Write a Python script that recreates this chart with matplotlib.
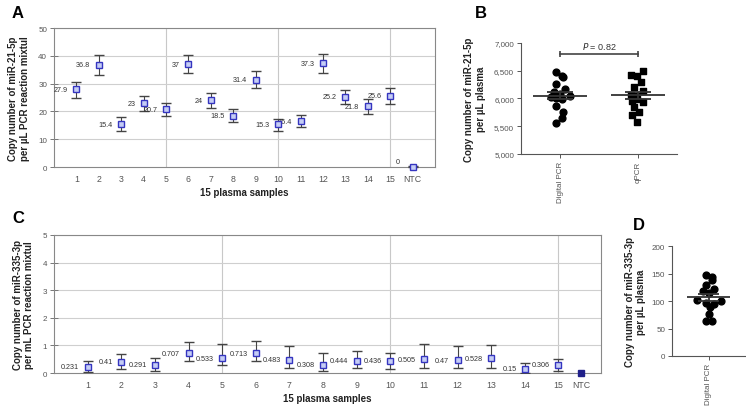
import matplotlib.pyplot as plt
import numpy as np

# panel A - miR-21-5p per uL PCR reaction
samples = ["1", "2", "3", "4", "5", "6", "7", "8", "9", "10", "11", "12", "13", "14", "15", "NTC"]
a_val = [27.9, 36.8, 15.4, 23, 20.7, 37, 24, 18.5, 31.4, 15.3, 16.4, 37.3, 25.2, 21.8, 25.6, 0]
a_low = [25.0, 33.2, 13.0, 20.3, 18.3, 34.0, 21.4, 16.2, 28.3, 13.0, 14.4, 34.0, 22.5, 19.2, 22.8, 0]
a_high = [30.6, 40.3, 17.9, 25.6, 23.1, 40.3, 26.7, 20.9, 34.6, 17.4, 18.7, 40.7, 27.7, 24.4, 28.5, 0.3]
a_lbl = ["27.9", "36.8", "15.4", "23", "20.7", "37", "24", "18.5", "31.4", "15.3", "16.4", "37.3",
         "25.2", "21.8", "25.6", "0"]

# panel C - miR-335-3p per mL PCR reaction
c_val = [0.231, 0.41, 0.291, 0.707, 0.533, 0.713, 0.483, 0.308, 0.444, 0.436, 0.505, 0.47, 0.528, 0.15, 0.306, 0]
c_low = [0.05, 0.13, 0.06, 0.42, 0.28, 0.45, 0.17, 0.08, 0.17, 0.14, 0.17, 0.17, 0.19, 0.0, 0.06, 0]
c_high = [0.45, 0.68, 0.55, 1.13, 1.04, 1.16, 0.97, 0.71, 0.81, 0.71, 1.04, 0.97, 1.03, 0.35, 0.51, 0]
c_lbl = ["0.231", "0.41", "0.291", "0.707", "0.533", "0.713", "0.483", "0.308", "0.444", "0.436",
         "0.505", "0.47", "0.528", "0.15", "0.306", ""]

# panel B - copies per uL plasma
b_groups = ["Digital PCR", "qPCR"]
b_digital = [6470, 6400, 6380, 6270, 6170, 6120, 6080, 6050, 6020, 6000, 5990, 5860, 5760, 5650, 5560]
b_qpcr = [6500, 6430, 6400, 6300, 6200, 6130, 6060, 6040, 5990, 5940, 5950, 5850, 5760, 5700, 5570]
b_dx = [-0.045, 0.026, 0.04, -0.045, 0.064, -0.077, 0, 0.128, -0.12, -0.045, 0.03, -0.045, 0.04, 0.03, -0.045]
b_qx = [0.068, -0.094, -0.017, 0.035, -0.05, 0.068, -0.094, -0.026, -0.009, 0.068, -0.08, -0.05, 0.017, -0.08, -0.009]

# panel D - miR-335-3p per uL plasma
d_val = [147, 144, 139, 130, 122, 118, 114, 102, 100, 97, 94, 89, 76, 64, 64]
d_dx = [-0.04, 0.05, 0.045, -0.04, 0.08, -0.08, 0, -0.16, 0.17, -0.03, 0.08, 0.015, 0, -0.04, 0.05]

grey = "#555555"
plt.rcParams["font.family"] = ["Liberation Sans", "DejaVu Sans"]

fig = plt.figure(figsize=(7.46, 4.10), dpi=100)


def sample_panel(ax, val, low, high, lbl, ymax, ylabel, ntc_pos, xmax, ntc_fill):
    x = list(range(1, 16)) + [ntc_pos]
    val = np.array(val)
    yerr = [val - np.array(low), np.array(high) - val]
    ax.errorbar(x[:15], val[:15], yerr=[yerr[0][:15], yerr[1][:15]], fmt="s", ms=5,
                mfc="#c5cdf5", mec="#3535c0", mew=1, ecolor="#444444", elinewidth=0.8,
                capsize=3.5, capthick=0.8, zorder=3)
    if ntc_fill:
        ax.plot(ntc_pos, 0, "s", ms=4, color="#20208a", zorder=3, clip_on=False)
    else:
        ax.errorbar([ntc_pos], [val[15]], yerr=[[0], [high[15]]], fmt="s", ms=5,
                    mfc="#c5cdf5", mec="#3535c0", mew=1, ecolor="#444444", elinewidth=0.8,
                    capsize=3.5, zorder=3, clip_on=False)
    for xi, v, t in zip(x, val, lbl):
        if t:
            if t == "0" and xi == ntc_pos:
                ax.annotate(t, (xi, v), xytext=(-9, 4), textcoords="offset points",
                            ha="right", va="center", fontsize=5.2, color="#333333")
            else:
                ax.annotate(t, (xi, v), xytext=(-6, 0), textcoords="offset points",
                            ha="right", va="center", fontsize=5.2, color="#333333")
    ax.set_xlim(0, xmax)
    ax.set_ylim(0, ymax)
    ax.set_xticks(x)
    ax.set_xticklabels(samples)
    ax.set_yticks(np.linspace(0, ymax, 6))
    for gx in [5, 10, 15]:
        ax.axvline(gx, color="#c8c8c8", lw=0.8, zorder=0)
    for gy in np.linspace(0, ymax, 6)[1:]:
        ax.axhline(gy, color="#cfcfcf", lw=0.8, zorder=0)
    for s in ax.spines.values():
        s.set_color("#888888")
        s.set_linewidth(0.8)
    ax.tick_params(axis="y", direction="inout", length=6, width=0.7, colors="#777777",
                   labelsize=5.8, labelcolor=grey, pad=2)
    ax.tick_params(axis="x", direction="out", length=0, labelsize=6.3, labelcolor=grey, pad=5)
    ax.set_xlabel("15 plasma samples", fontsize=7, fontweight="bold", color="#222222", labelpad=3)
    ax.set_ylabel(ylabel, fontsize=7, fontweight="bold", color="#222222", labelpad=6)


axA = fig.add_axes([0.0724, 0.5902, 0.5107, 0.339])
sample_panel(axA, a_val, a_low, a_high, a_lbl, 50,
             "Copy number of miR-21-5p\nper \u00b5L PCR reaction mixtul", 16, 17, False)

axC = fig.add_axes([0.0724, 0.0878, 0.733, 0.3366])
sample_panel(axC, c_val, c_low, c_high, c_lbl, 5,
             "Copy number of miR-335-3p\nper mL PCR reaction mixtul", 15.67, 16.26, True)


def dot_panel(ax, groups):
    ax.spines["top"].set_visible(False)
    ax.spines["right"].set_visible(False)
    for s in ["left", "bottom"]:
        ax.spines[s].set_color("#555555")
        ax.spines[s].set_linewidth(0.8)
    ax.set_xticks(range(len(groups)))
    ax.set_xticklabels(groups, rotation=90)
    ax.tick_params(direction="out", length=3, width=0.7, colors="#555555", labelsize=5.8,
                   labelcolor=grey, pad=2)


def mean_sem(ax, x, vals, mw, sw):
    vals = np.array(vals)
    m = vals.mean()
    sem = vals.std(ddof=1) / np.sqrt(len(vals))
    ax.hlines(m, x - mw, x + mw, color="#333333", lw=1.3, zorder=4)
    ax.hlines([m - sem, m + sem], x - sw, x + sw, color="#333333", lw=1.3, zorder=4)
    ax.vlines(x, m - sem, m + sem, color="#333333", lw=1.3, zorder=4)


axB = fig.add_axes([0.6984, 0.622, 0.2091, 0.2707])
axB.scatter(np.array(b_dx), b_digital, s=24, marker="o", color="black", zorder=3)
axB.scatter(1 + np.array(b_qx), b_qpcr, s=22, marker="s", color="black", zorder=3)
mean_sem(axB, 0, b_digital, 0.34, 0.17)
mean_sem(axB, 1, b_qpcr, 0.34, 0.17)
axB.set_xlim(-0.5, 1.5)
axB.set_ylim(5000, 7000)
axB.set_yticks([5000, 5500, 6000, 6500, 7000])
axB.set_yticklabels(["5,000", "5,500", "6,000", "6,500", "7,000"])
dot_panel(axB, b_groups)
axB.plot([0, 1], [6800, 6800], color="#444444", lw=1.2, clip_on=False)
axB.vlines([0, 1], 6740, 6860, color="#444444", lw=1.2)
axB.text(0.5, 6860, r"$\it{P}$ = 0.82", ha="center", va="bottom", fontsize=6.5, color="#333333")
axB.set_ylabel("Copy number of miR-21-5p\nper \u00b5L plasma", fontsize=7, fontweight="bold",
               color="#222222", labelpad=6)

axD = fig.add_axes([0.9008, 0.1293, 0.0979, 0.268])
axD.scatter(np.array(d_dx), d_val, s=24, marker="o", color="black", zorder=3)
mean_sem(axD, 0, d_val, 0.3, 0.15)
axD.set_xlim(-0.5, 0.5)
axD.set_ylim(0, 200)
axD.set_yticks([0, 50, 100, 150, 200])
dot_panel(axD, ["Digital PCR"])
axD.set_ylabel("Copy number of miR-335-3p\nper \u00b5L plasma", fontsize=7, fontweight="bold",
               color="#222222", labelpad=4)

for lab, px, py in [("A", 12, 14), ("B", 475, 14), ("C", 12, 219), ("D", 633, 225)]:
    fig.text(px / 746, 1 - py / 410, lab, fontsize=12, fontweight="bold", ha="left", va="center")

fig.savefig("out.png", dpi=100)
